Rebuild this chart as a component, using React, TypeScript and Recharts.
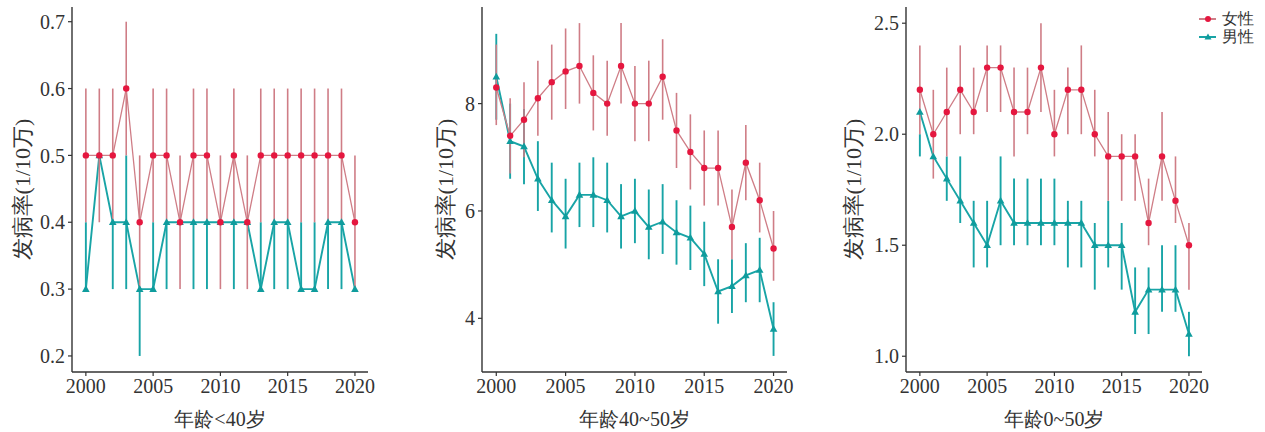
import { LineChart, Line, XAxis, YAxis, ErrorBar, Label } from "recharts"

const years = [2000, 2001, 2002, 2003, 2004, 2005, 2006, 2007, 2008, 2009, 2010, 2011, 2012, 2013, 2014, 2015, 2016, 2017, 2018, 2019, 2020]
const yearTicks = [2000, 2005, 2010, 2015, 2020]

// 年龄<40岁
const u40Female = [0.5, 0.5, 0.5, 0.6, 0.4, 0.5, 0.5, 0.4, 0.5, 0.5, 0.4, 0.5, 0.4, 0.5, 0.5, 0.5, 0.5, 0.5, 0.5, 0.5, 0.4]
const u40FemaleLow = [0.4, 0.4, 0.4, 0.5, 0.3, 0.4, 0.4, 0.3, 0.4, 0.4, 0.3, 0.4, 0.3, 0.4, 0.4, 0.4, 0.4, 0.4, 0.4, 0.4, 0.3]
const u40FemaleHigh = [0.6, 0.6, 0.6, 0.7, 0.5, 0.6, 0.6, 0.5, 0.6, 0.6, 0.5, 0.6, 0.5, 0.6, 0.6, 0.6, 0.6, 0.6, 0.6, 0.6, 0.5]
const u40Male = [0.3, 0.5, 0.4, 0.4, 0.3, 0.3, 0.4, 0.4, 0.4, 0.4, 0.4, 0.4, 0.4, 0.3, 0.4, 0.4, 0.3, 0.3, 0.4, 0.4, 0.3]
const u40MaleLow = [0.3, 0.5, 0.3, 0.3, 0.2, 0.3, 0.3, 0.4, 0.3, 0.3, 0.4, 0.3, 0.4, 0.3, 0.3, 0.3, 0.3, 0.3, 0.3, 0.3, 0.3]
const u40MaleHigh = [0.4, 0.5, 0.4, 0.5, 0.3, 0.4, 0.4, 0.4, 0.4, 0.4, 0.4, 0.4, 0.4, 0.4, 0.4, 0.4, 0.4, 0.4, 0.4, 0.4, 0.3]
const u40Ticks = [0.2, 0.3, 0.4, 0.5, 0.6, 0.7]

// 年龄40~50岁
const a40Female = [8.3, 7.4, 7.7, 8.1, 8.4, 8.6, 8.7, 8.2, 8.0, 8.7, 8.0, 8.0, 8.5, 7.5, 7.1, 6.8, 6.8, 5.7, 6.9, 6.2, 5.3]
const a40FemaleLow = [7.6, 6.7, 7.0, 7.4, 7.7, 7.9, 8.0, 7.5, 7.4, 8.0, 7.3, 7.3, 7.7, 6.8, 6.4, 6.1, 6.1, 5.1, 6.2, 5.6, 4.7]
const a40FemaleHigh = [9.1, 8.1, 8.4, 8.8, 9.1, 9.4, 9.5, 8.9, 8.8, 9.5, 8.7, 8.8, 9.2, 8.2, 7.8, 7.5, 7.5, 6.4, 7.6, 6.9, 6.0]
const a40Male = [8.5, 7.3, 7.2, 6.6, 6.2, 5.9, 6.3, 6.3, 6.2, 5.9, 6.0, 5.7, 5.8, 5.6, 5.5, 5.2, 4.5, 4.6, 4.8, 4.9, 3.8]
const a40MaleLow = [7.7, 6.6, 6.5, 6.0, 5.6, 5.3, 5.7, 5.7, 5.6, 5.3, 5.4, 5.1, 5.2, 5.0, 4.9, 4.6, 3.9, 4.1, 4.3, 4.3, 3.3]
const a40MaleHigh = [9.3, 8.0, 7.9, 7.3, 6.9, 6.6, 6.9, 7.0, 6.9, 6.5, 6.6, 6.4, 6.5, 6.2, 6.1, 5.8, 5.1, 5.1, 5.4, 5.5, 4.3]
const a40Ticks = [4, 6, 8]

// 年龄0~50岁
const allFemale = [2.2, 2.0, 2.1, 2.2, 2.1, 2.3, 2.3, 2.1, 2.1, 2.3, 2.0, 2.2, 2.2, 2.0, 1.9, 1.9, 1.9, 1.6, 1.9, 1.7, 1.5]
const allFemaleLow = [2.0, 1.8, 1.9, 2.0, 2.0, 2.1, 2.1, 1.9, 2.0, 2.1, 1.9, 2.0, 2.0, 1.9, 1.7, 1.7, 1.7, 1.5, 1.7, 1.6, 1.3]
const allFemaleHigh = [2.4, 2.2, 2.3, 2.4, 2.3, 2.4, 2.4, 2.3, 2.3, 2.5, 2.2, 2.3, 2.4, 2.2, 2.1, 2.0, 2.0, 1.8, 2.1, 1.9, 1.6]
const allMale = [2.1, 1.9, 1.8, 1.7, 1.6, 1.5, 1.7, 1.6, 1.6, 1.6, 1.6, 1.6, 1.6, 1.5, 1.5, 1.5, 1.2, 1.3, 1.3, 1.3, 1.1]
const allMaleLow = [1.9, 1.9, 1.7, 1.6, 1.4, 1.4, 1.5, 1.5, 1.5, 1.5, 1.5, 1.4, 1.4, 1.3, 1.4, 1.3, 1.1, 1.1, 1.2, 1.2, 1.0]
const allMaleHigh = [2.0, 1.9, 1.9, 1.9, 1.7, 1.7, 1.9, 1.8, 1.8, 1.8, 1.8, 1.7, 1.7, 1.6, 1.7, 1.6, 1.4, 1.4, 1.5, 1.5, 1.2]
const allTicks = [1.0, 1.5, 2.0, 2.5]

// serif fallback picks a Song-style CJK face for the Chinese text
const FONT = "'Liberation Serif', 'Times New Roman', serif"
const INK = "#333"
const RED_LINE = "#cf7d86"
const RED_DOT = "#e5173f"
const TEAL = "#18a4a6"
const TEAL_DOT = "#0f9c9d"

function buildRows(f: number[], fLo: number[], fHi: number[], m: number[], mLo: number[], mHi: number[]) {
  return years.map((year, i) => ({
    year,
    f: f[i],
    fErr: [f[i] - fLo[i], fHi[i] - f[i]],
    m: m[i],
    mErr: [m[i] - mLo[i], mHi[i] - m[i]],
  }))
}

const RedDot = (p: any) => {
  if (p.cx == null || p.cy == null) return null
  return <circle cx={p.cx} cy={p.cy} r={3.2} fill={RED_DOT} />
}

const TealDot = (p: any) => {
  if (p.cx == null || p.cy == null) return null
  const { cx, cy } = p
  return <path d={`M${cx},${cy - 4} L${cx + 3.8},${cy + 2.8} L${cx - 3.8},${cy + 2.8} Z`} fill={TEAL_DOT} />
}

const yLabel = (offset: number) => (props: any) => {
  const vb = props.viewBox || {}
  const cx = vb.x + offset
  const cy = vb.y + vb.height / 2
  return (
    <text x={cx} y={cy} transform={`rotate(-90 ${cx} ${cy})`} textAnchor="middle" dominantBaseline="central"
      style={{ fontFamily: FONT, fontSize: 22, fill: INK }}>
      发病率(1/10万)
    </text>
  )
}

type PanelProps = {
  left: number
  width: number
  axisWidth: number
  marginRight: number
  labelOffset: number
  rows: any[]
  domain: [number, number]
  ticks: number[]
  decimals: number
  title: string
}

function Panel({ left, width, axisWidth, marginRight, labelOffset, rows, domain, ticks, decimals, title }: PanelProps) {
  const tickStyle = { fontSize: 20, fill: INK, fontFamily: FONT, style: { fontFamily: FONT } }
  return (
    <div style={{ position: "absolute", left, top: 0, fontFamily: FONT }}>
      <LineChart width={width} height={432} data={rows} margin={{ top: 7, right: marginRight, bottom: 0, left: 0 }}
        style={{ fontFamily: FONT }}>
        <XAxis dataKey="year" type="number" domain={[1998.97, 2020.97]} ticks={yearTicks} allowDataOverflow
          height={60} tick={tickStyle} tickSize={4} tickMargin={3}
          axisLine={{ stroke: INK, strokeWidth: 1.4 }} tickLine={{ stroke: INK, strokeWidth: 1.2 }}>
          <Label value={title} position="insideBottom" offset={6} style={{ fontFamily: FONT, fontSize: 20, fill: INK }} />
        </XAxis>
        <YAxis type="number" domain={domain} ticks={ticks} allowDataOverflow interval={0} width={axisWidth}
          tick={tickStyle} tickSize={4} tickMargin={3} tickFormatter={(v: number) => v.toFixed(decimals)}
          axisLine={{ stroke: INK, strokeWidth: 1.4 }} tickLine={{ stroke: INK, strokeWidth: 1.2 }}>
          <Label content={yLabel(labelOffset)} />
        </YAxis>
        <Line dataKey="m" type="linear" stroke={TEAL} strokeWidth={1.9} dot={<TealDot />} activeDot={false} isAnimationActive={false}>
          <ErrorBar dataKey="mErr" width={0} stroke={TEAL} strokeWidth={1.9} direction="y" />
        </Line>
        <Line dataKey="f" type="linear" stroke={RED_LINE} strokeWidth={1.3} dot={<RedDot />} activeDot={false} isAnimationActive={false}>
          <ErrorBar dataKey="fErr" width={0} stroke={RED_LINE} strokeWidth={1.6} direction="y" />
        </Line>
      </LineChart>
    </div>
  )
}

function Legend() {
  const item = (label: string, color: string, dot: string, tri: boolean, top: number) => (
    <div style={{ position: "absolute", left: 1197, top, display: "flex", alignItems: "center", height: 18 }}>
      <svg width={22} height={10}>
        <line x1={2} y1={5} x2={19} y2={5} stroke={color} strokeWidth={2} />
        {tri ? <path d="M11,1.5 L14.5,7.5 L7.5,7.5 Z" fill={dot} /> : <circle cx={11} cy={5} r={3} fill={dot} />}
      </svg>
      <span style={{ fontFamily: FONT, fontSize: 16, color: INK, marginLeft: 3, lineHeight: "18px" }}>{label}</span>
    </div>
  )
  return (
    <>
      {item("女性", RED_LINE, RED_DOT, false, 10)}
      {item("男性", TEAL, TEAL_DOT, true, 28)}
    </>
  )
}

export default function App() {
  return (
    <div style={{ position: "absolute", left: 0, top: 0, width: 1265, height: 432, background: "#fff", overflow: "hidden" }}>
      <Panel left={0} width={380} axisWidth={72} marginRight={12} labelOffset={22}
        rows={buildRows(u40Female, u40FemaleLow, u40FemaleHigh, u40Male, u40MaleLow, u40MaleHigh)}
        domain={[0.176, 0.722]} ticks={u40Ticks} decimals={1} title="年龄<40岁" />
      <Panel left={400} width={400} axisWidth={82} marginRight={13} labelOffset={45}
        rows={buildRows(a40Female, a40FemaleLow, a40FemaleHigh, a40Male, a40MaleLow, a40MaleHigh)}
        domain={[3.0, 9.8]} ticks={a40Ticks} decimals={0} title="年龄40~50岁" />
      <Panel left={830} width={435} axisWidth={76} marginRight={63} labelOffset={23}
        rows={buildRows(allFemale, allFemaleLow, allFemaleHigh, allMale, allMaleLow, allMaleHigh)}
        domain={[0.929, 2.573]} ticks={allTicks} decimals={1} title="年龄0~50岁" />
      <Legend />
    </div>
  )
}
